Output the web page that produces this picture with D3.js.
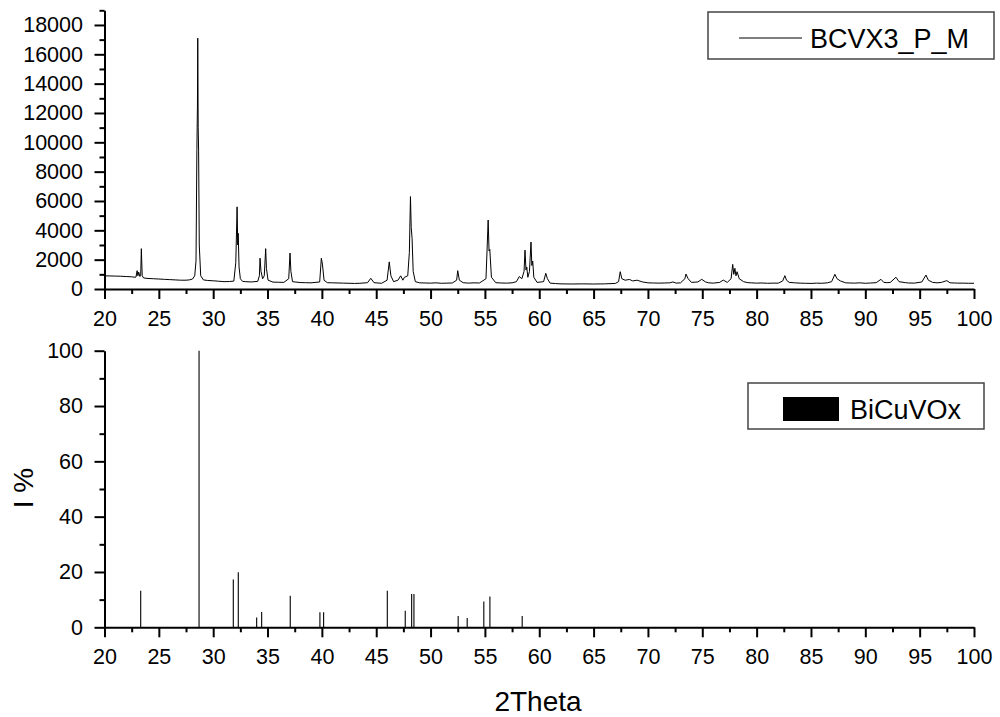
<!DOCTYPE html>
<html>
<head>
<meta charset="utf-8">
<script src="https://cdn.jsdelivr.net/npm/d3@7"></script>
<style>
  body { margin: 0; background: #fff; }
  svg text { font-family: Arial, "Liberation Sans", sans-serif; fill: #000; }
</style>
</head>
<body>
<div id="chart"></div>
<script>
const patternPoints = [
    [20, 900], [20.5, 890], [21, 880], [21.5, 870], [22, 850], [22.5, 830], [22.8, 800],
    [22.9, 820], [23.0, 1250], [23.07, 900], [23.15, 1150], [23.25, 850], [23.33, 900],
    [23.39, 2750], [23.47, 900], [23.6, 750], [24, 720], [24.5, 700], [25, 680], [25.5, 660],
    [26, 640], [26.5, 620], [27, 600], [27.5, 600], [27.8, 620], [28.1, 680], [28.3, 900],
    [28.42, 1900], [28.5, 9500], [28.55, 12400], [28.58, 17100], [28.62, 11000], [28.66, 9400],
    [28.72, 3000], [28.85, 900], [29.1, 620], [29.5, 580], [30, 560], [30.5, 530], [31, 500],
    [31.5, 510], [31.9, 540], [32.08, 1800], [32.2, 5600], [32.26, 3000], [32.3, 3800],
    [32.38, 1500], [32.5, 700], [32.7, 520], [33, 500], [33.5, 480], [34.1, 520], [34.25, 900],
    [34.31, 2100], [34.4, 1200], [34.55, 700], [34.7, 900], [34.83, 2750], [34.9, 1400],
    [35.05, 600], [35.5, 470], [36, 460], [36.5, 450], [36.95, 700], [37.07, 2450], [37.15, 1200],
    [37.3, 500], [38, 440], [38.5, 430], [39, 420], [39.8, 480], [39.95, 2100], [40.05, 1700],
    [40.2, 600], [40.5, 430], [41, 420], [42, 400], [43, 380], [43.5, 390], [44.2, 430],
    [44.5, 730], [44.8, 430], [45.5, 390], [46.0, 600], [46.2, 1850], [46.35, 900], [46.6, 500],
    [47.0, 600], [47.25, 900], [47.45, 600], [47.6, 800], [47.9, 900], [48.05, 2500],
    [48.15, 6300], [48.22, 4200], [48.3, 3450], [48.4, 1200], [48.6, 500], [49, 420], [49.5, 410],
    [50, 400], [50.5, 420], [51, 390], [51.5, 400], [52, 410], [52.4, 600], [52.5, 1250],
    [52.65, 600], [53, 430], [53.5, 400], [54, 420], [54.5, 410], [55.1, 700], [55.3, 4700],
    [55.38, 2600], [55.45, 2700], [55.6, 800], [56, 430], [56.5, 410], [57, 400], [57.5, 420],
    [57.9, 500], [58.16, 850], [58.4, 700], [58.6, 1200], [58.69, 2650], [58.78, 1300],
    [58.85, 1500], [58.95, 800], [59.1, 1200], [59.24, 3200], [59.32, 1600], [59.4, 1900],
    [59.5, 800], [59.8, 450], [60.4, 500], [60.6, 1070], [60.75, 700], [61, 400], [61.5, 370],
    [62, 350], [63, 340], [64, 350], [65, 340], [66, 350], [67, 380], [67.3, 500], [67.45, 1180],
    [67.6, 700], [67.9, 600], [68.3, 650], [68.6, 550], [69, 600], [69.5, 480], [70, 420],
    [70.5, 410], [71, 400], [71.5, 410], [72, 420], [72.3, 480], [72.6, 400], [73, 420],
    [73.4, 700], [73.5, 1020], [73.7, 700], [74, 450], [74.6, 480], [74.95, 660], [75.3, 480],
    [75.6, 420], [76, 400], [76.6, 450], [76.93, 610], [77.3, 450], [77.65, 700], [77.8, 1680],
    [77.9, 1000], [78.0, 1410], [78.1, 900], [78.2, 1180], [78.4, 700], [78.8, 500], [79.2, 430],
    [79.5, 420], [80, 400], [80.5, 410], [81, 390], [81.5, 400], [82, 400], [82.4, 550],
    [82.6, 910], [82.75, 600], [83, 450], [83.5, 420], [84, 400], [84.5, 390], [85, 380],
    [85.5, 400], [86, 390], [86.5, 420], [86.9, 500], [87.2, 1000], [87.4, 700], [87.7, 550],
    [88.2, 420], [88.6, 410], [89, 400], [89.5, 420], [90, 390], [90.5, 410], [91, 430],
    [91.44, 660], [91.7, 450], [92, 430], [92.3, 450], [92.82, 800], [93.1, 500], [93.7, 430],
    [94, 410], [94.5, 400], [95.2, 480], [95.58, 950], [95.8, 600], [96.2, 450], [96.6, 420],
    [97, 450], [97.5, 570], [97.8, 420], [98.2, 410], [98.5, 400], [99, 400], [99.5, 390],
    [100, 390]
];

// Reference card lines
const stickTheta = [23.33, 28.7, 31.85, 32.31, 34.0, 34.46, 37.09, 39.82, 40.16, 46.02, 47.67,
    48.26, 48.47, 52.54, 53.37, 54.9, 55.46, 58.43];
const stickIntensity = [13.2, 100, 17.3, 19.9, 3.5, 5.5, 11.4, 5.4, 5.4, 13.2, 6.0,
    12.0, 12.0, 4.1, 3.4, 9.3, 11.1, 4.1];

const thetaTicks = [20, 25, 30, 35, 40, 45, 50, 55, 60, 65, 70, 75, 80, 85, 90, 95, 100];
const countTicks = [0, 2000, 4000, 6000, 8000, 10000, 12000, 14000, 16000, 18000];
const percentTicks = [0, 20, 40, 60, 80, 100];
const seriesNames = ["BCVX3_P_M", "BiCuVOx"];
const axisTitles = ["I %", "2Theta"];

const width = 1000;
const height = 717;
const tickFont = 21.5;

const svg = d3.select("#chart")
    .append("svg")
    .attr("width", width)
    .attr("height", height);

svg.append("rect").attr("width", width).attr("height", height).attr("fill", "#fff");

const x = d3.scaleLinear().domain([20, 100]).range([104.5, 974]);
const yTop = d3.scaleLinear().domain([0, 19000]).range([289, 10.3]);
const yBottom = d3.scaleLinear().domain([0, 100]).range([627.3, 350.7]);

// minor ticks sit halfway between majors
const midpoints = (ticks) => ticks.slice(1).map((t, i) => (t + ticks[i]) / 2);

// Pattern line
const line = d3.line()
    .x(d => x(d[0]))
    .y(d => yTop(d[1]));

svg.append("path")
    .datum(patternPoints)
    .attr("d", line)
    .attr("fill", "none")
    .attr("stroke", "#000")
    .attr("stroke-width", 1);

// Sticks
svg.append("g")
    .selectAll("line")
    .data(stickTheta)
    .join("line")
    .attr("x1", d => x(d))
    .attr("x2", d => x(d))
    .attr("y1", yBottom(0))
    .attr("y2", (d, i) => yBottom(stickIntensity[i]))
    .attr("stroke", "#000")
    .attr("stroke-width", 1.1);

const styleAxis = (g) => {
    g.selectAll("path, line").attr("stroke", "#000").attr("stroke-width", 2);
    g.selectAll("text").attr("font-size", tickFont).attr("font-family", "Arial, 'Liberation Sans', sans-serif");
    return g;
};

const drawXAxis = (y0) => {
    svg.append("g")
        .attr("transform", `translate(0,${y0})`)
        .call(d3.axisBottom(x).tickValues(midpoints(thetaTicks)).tickSize(5).tickFormat(""))
        .call(styleAxis)
        .select(".domain").remove();
    svg.append("g")
        .attr("transform", `translate(0,${y0})`)
        .call(d3.axisBottom(x).tickValues(thetaTicks).tickSize(10).tickSizeOuter(0).tickPadding(11.5))
        .call(styleAxis);
};

const drawYAxis = (scale, ticks) => {
    svg.append("g")
        .attr("transform", `translate(${x(20)},0)`)
        .call(d3.axisLeft(scale).tickValues(midpoints(ticks).concat(ticks === countTicks ? [19000] : []))
            .tickSize(5).tickFormat(""))
        .call(styleAxis)
        .select(".domain").remove();
    svg.append("g")
        .attr("transform", `translate(${x(20)},0)`)
        .call(d3.axisLeft(scale).tickValues(ticks).tickSize(10).tickSizeOuter(0).tickPadding(11.5)
            .tickFormat(d3.format("d")))
        .call(styleAxis);
};

drawYAxis(yTop, countTicks);
drawXAxis(yTop(0));
drawYAxis(yBottom, percentTicks);
drawXAxis(yBottom(0));

// Axis titles
svg.append("text")
    .attr("transform", `translate(33,488) rotate(-90)`)
    .attr("text-anchor", "middle")
    .attr("font-size", 28)
    .text(axisTitles[0]);

svg.append("text")
    .attr("x", 538)
    .attr("y", 711)
    .attr("text-anchor", "middle")
    .attr("font-size", 28)
    .text(axisTitles[1]);

// Legends
svg.append("rect")
    .attr("x", 708).attr("y", 12).attr("width", 286).attr("height", 47)
    .attr("fill", "#fff").attr("stroke", "#444").attr("stroke-width", 1.5);
svg.append("line")
    .attr("x1", 739).attr("x2", 802).attr("y1", 38).attr("y2", 38)
    .attr("stroke", "#000").attr("stroke-width", 1);
svg.append("text")
    .attr("x", 810).attr("y", 48)
    .attr("font-size", 27)
    .text(seriesNames[0]);

svg.append("rect")
    .attr("x", 748).attr("y", 383).attr("width", 236).attr("height", 46)
    .attr("fill", "#fff").attr("stroke", "#444").attr("stroke-width", 1.5);
svg.append("rect")
    .attr("x", 783).attr("y", 397).attr("width", 56).attr("height", 24)
    .attr("fill", "#000");
svg.append("text")
    .attr("x", 850).attr("y", 419)
    .attr("font-size", 27)
    .text(seriesNames[1]);
</script>
</body>
</html>
